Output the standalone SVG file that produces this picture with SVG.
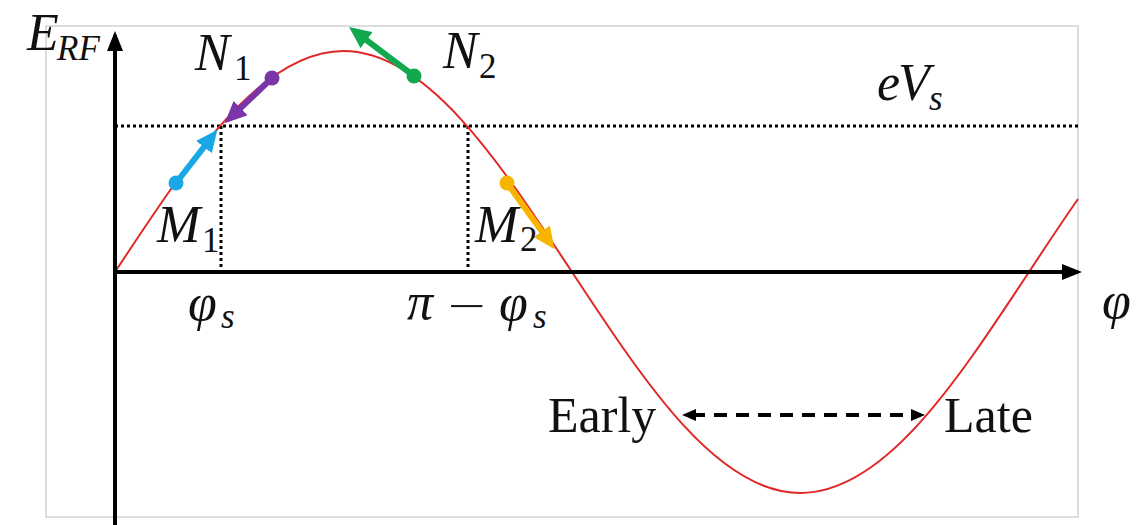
<svg xmlns="http://www.w3.org/2000/svg" width="1137" height="525" viewBox="0 0 1137 525">
<style>
.math{font-family:"Liberation Serif","DejaVu Serif",serif;font-style:italic;font-size:52px;fill:#111}
.sub{font-family:"Liberation Serif","DejaVu Serif",serif;font-style:italic;font-size:35px;fill:#111}
.subr{font-family:"Liberation Serif","DejaVu Serif",serif;font-size:35px;fill:#111}
.op{font-family:"DejaVu Sans",sans-serif;font-weight:200;font-size:50px;fill:#111}
.word{font-family:"Liberation Serif","Times New Roman",serif;font-size:50px;fill:#111}
.axis{stroke:#000;stroke-width:4;fill:none}
.dot{stroke:#000;stroke-width:3;stroke-dasharray:3 3;fill:none}
.curve{stroke:#e02828;stroke-width:2;fill:none}
.arr{stroke-width:6;fill:none}
</style>
<defs>
<marker id="hk" markerUnits="userSpaceOnUse" markerWidth="20" markerHeight="16" refX="16" refY="8" orient="auto"><path d="M0,0 L20,8 L0,16 z" fill="#000"/></marker>
<marker id="hs" markerUnits="userSpaceOnUse" markerWidth="14" markerHeight="12" refX="4" refY="6" orient="auto-start-reverse"><path d="M0,0 L14,6 L0,12 z" fill="#000"/></marker>
<marker id="hc" markerUnits="userSpaceOnUse" markerWidth="22" markerHeight="20" refX="8" refY="10" orient="auto"><path d="M0,0 L22,10 L0,20 z" fill="#1aa7e6"/></marker>
<marker id="hp" markerUnits="userSpaceOnUse" markerWidth="22" markerHeight="20" refX="8" refY="10" orient="auto"><path d="M0,0 L22,10 L0,20 z" fill="#7a35a8"/></marker>
<marker id="hg" markerUnits="userSpaceOnUse" markerWidth="22" markerHeight="20" refX="8" refY="10" orient="auto"><path d="M0,0 L22,10 L0,20 z" fill="#12a84e"/></marker>
<marker id="ho" markerUnits="userSpaceOnUse" markerWidth="22" markerHeight="20" refX="8" refY="10" orient="auto"><path d="M0,0 L22,10 L0,20 z" fill="#f7b500"/></marker>
</defs>
<rect width="1137" height="525" fill="#fff"/>
<rect id="frame" x="46" y="26" width="1032" height="491" fill="none" stroke="#d2d2d2" stroke-width="1.5"/>
<g id="guides">
<line class="dot" x1="115" y1="126" x2="1080" y2="126"/>
<line class="dot" x1="221" y1="126" x2="221" y2="272"/>
<line class="dot" x1="468" y1="126" x2="468" y2="272"/>
</g>
<path id="curve" class="curve" d="M115,272 C189.5,158.8 260.8,51 343.5,51 C426.2,51 497.5,158.8 572,272 C646.5,385.2 717.8,493 800.5,493 C883.2,493 954.5,385.2 1029,272 C1045.3,247.2 1061.7,222.4 1078,199"/>
<g id="axes">
<line class="axis" x1="115" y1="525" x2="115" y2="35" marker-end="url(#hk)"/>
<line class="axis" x1="115" y1="272" x2="1078" y2="272" marker-end="url(#hk)"/>
</g>
<g id="connectors">
<line class="arr" stroke="#1aa7e6" x1="176" y1="183" x2="208.8" y2="140.8" marker-end="url(#hc)"/>
<line class="arr" stroke="#7a35a8" x1="272" y1="78" x2="234.8" y2="113.6" marker-end="url(#hp)"/>
<line class="arr" stroke="#12a84e" x1="414" y1="76" x2="360.2" y2="35.4" marker-end="url(#hg)"/>
<line class="arr" stroke="#f7b500" x1="507" y1="183" x2="546.4" y2="237.8" marker-end="url(#ho)"/>
<line x1="692" y1="415" x2="915" y2="415" stroke="#000" stroke-width="4" stroke-dasharray="13 9" marker-start="url(#hs)" marker-end="url(#hs)"/>
</g>
<g id="M1"><circle cx="176" cy="183" r="7.5" fill="#1aa7e6"/><text class="math" x="157" y="242">M</text><text class="subr" x="202" y="252">1</text></g>
<g id="N1"><circle cx="272" cy="78" r="7.5" fill="#7a35a8"/><text class="math" x="195" y="70">N</text><text class="subr" x="234" y="80">1</text></g>
<g id="N2"><circle cx="414" cy="76" r="7.5" fill="#12a84e"/><text class="math" x="443" y="68">N</text><text class="subr" x="479" y="78">2</text></g>
<g id="M2"><circle cx="507" cy="183" r="7.5" fill="#f7b500"/><text class="math" x="475" y="242">M</text><text class="subr" x="520" y="251">2</text></g>
<g id="labels">
<text class="math" x="27" y="50">E</text><text class="sub" x="57" y="60">RF</text>
<text class="math" x="877" y="100">e</text><text class="math" x="898" y="100">V</text><text class="sub" x="929" y="110">s</text>
<text class="math" x="188" y="320">φ</text><text class="sub" x="221" y="328">s</text>
<text class="math" x="407" y="319">π</text><text class="op" x="446" y="322">−</text><text class="math" x="499" y="320">φ</text><text class="sub" x="533" y="328">s</text>
<text class="math" x="1102" y="318">φ</text>
<text class="word" x="548" y="432">Early</text>
<text class="word" x="944" y="432">Late</text>
</g>
</svg>
